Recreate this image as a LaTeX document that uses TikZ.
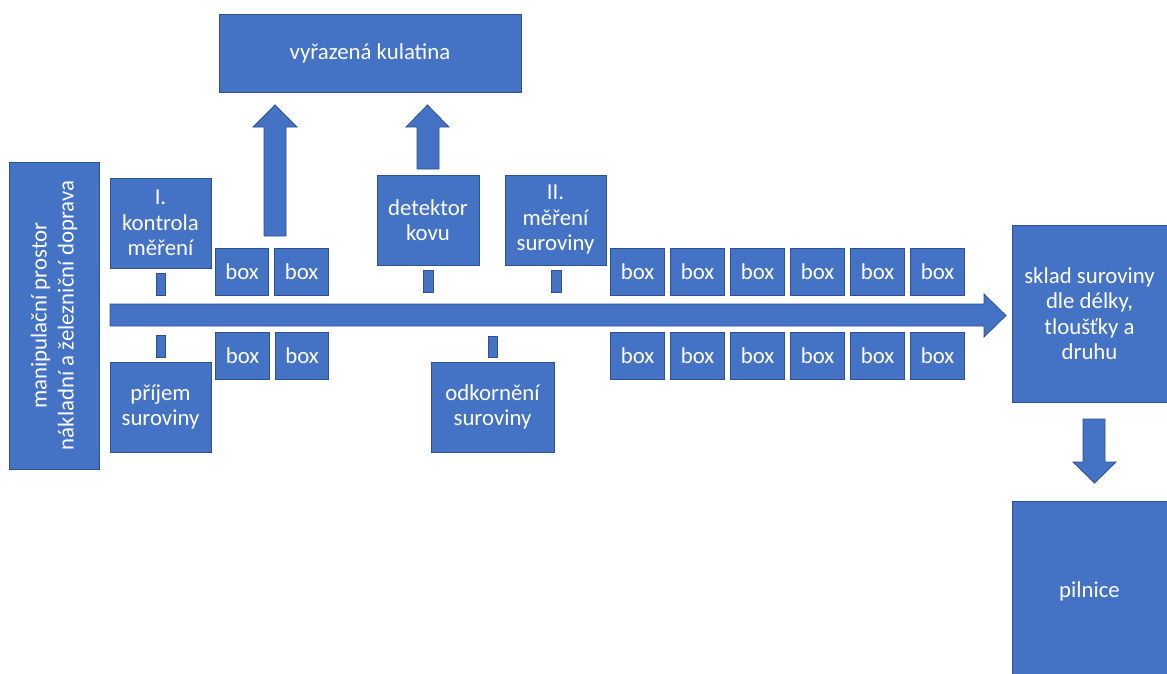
\documentclass[tikz,border=0pt]{standalone}
\usepackage{fontspec}
\setmainfont{Carlito}
\definecolor{ofill}{HTML}{4472C4}
\definecolor{oline}{HTML}{2F528F}
\begin{document}
\begin{tikzpicture}[x=1pt,y=-1pt,
  blk/.style={rectangle,fill=ofill,draw=oline,line width=0.8pt,text=white,align=center,inner sep=0pt,
    font=\fontsize{22.8}{25.5}\selectfont},
  bx/.style={blk,minimum width=53.5pt,minimum height=47pt},
  shp/.style={fill=ofill,draw=oline,line width=0.8pt}]
\clip (0,0) rectangle (1167,673);
\fill[white] (0,0) rectangle (1167,673);
% main nodes
\node[blk,minimum width=302pt,minimum height=78pt] (vyr) at (370,53) {vyřazená kulatina};
\node[blk,rotate=90,minimum width=307pt,minimum height=90pt,font=\fontsize{22.8}{27}\selectfont] (manip) at (54,315.5) {manipulační prostor\\nákladní a železniční doprava};
\node[blk,minimum width=101pt,minimum height=90pt] (kontrola) at (160.5,223) {I.\\kontrola\\měření};
\node[blk,minimum width=101pt,minimum height=90pt] (prijem) at (160.5,407) {příjem\\suroviny};
\node[blk,minimum width=102pt,minimum height=90pt] (detektor) at (428,220) {detektor\\kovu};
\node[blk,minimum width=101pt,minimum height=90pt] (mereni) at (555.5,220) {II.\\měření\\suroviny};
\node[blk,minimum width=123pt,minimum height=90pt] (odkor) at (492.5,407) {odkornění\\suroviny};
\node[blk,minimum width=155pt,minimum height=177pt] (sklad) at (1089.5,313.5) {sklad suroviny\\dle délky,\\tloušťky a\\druhu};
\node[blk,minimum width=155pt,minimum height=180pt] (pilnice) at (1089.5,591) {pilnice};
% boxes
\node[bx] (bu1) at (242,271.5) {box};
\node[bx] (bu2) at (301.5,271.5) {box};
\node[bx] (bl1) at (242.5,355.5) {box};
\node[bx] (bl2) at (302,355.5) {box};
\foreach \i in {0,...,5}{
  \node[bx] (ru\i) at (637.5+60*\i,271.5) {box};
  \node[bx] (rl\i) at (637.5+60*\i,355.5) {box};
}
% small connectors
\draw[shp] (156,273) rectangle (165,295);
\draw[shp] (156,335) rectangle (165,357);
\draw[shp] (423,270) rectangle (433,292);
\draw[shp] (551,270) rectangle (561,292);
\draw[shp] (488,336) rectangle (497,357);
% main horizontal arrow
\draw[shp] (110,304) -- (984,304) -- (984,294) -- (1006,315.5) -- (984,337) -- (984,326) -- (110,326) -- cycle;
% up arrows
\draw[shp] (264,236) -- (264,127) -- (253,127) -- (275,105) -- (297,127) -- (286,127) -- (286,236) -- cycle;
\draw[shp] (417,169) -- (417,127) -- (406,127) -- (427.5,105) -- (449,127) -- (439,127) -- (439,169) -- cycle;
% down arrow
\draw[shp] (1083,419) -- (1083,462) -- (1073,462) -- (1094.5,483) -- (1116,462) -- (1105,462) -- (1105,419) -- cycle;
\end{tikzpicture}
\end{document}
